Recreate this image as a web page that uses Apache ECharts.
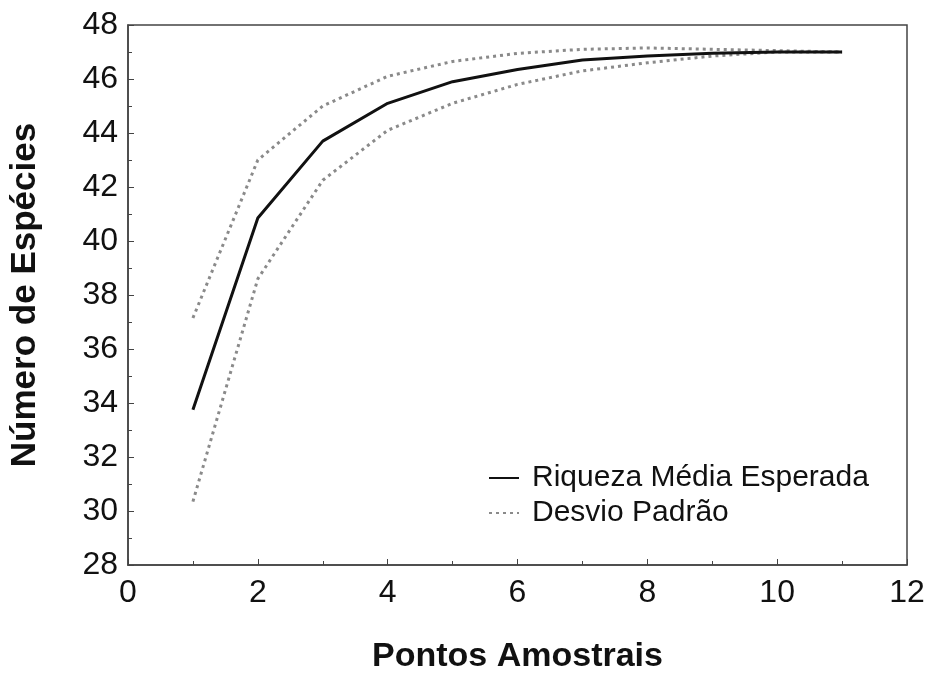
<!DOCTYPE html>
<html><head><meta charset="utf-8">
<script src="https://cdn.jsdelivr.net/npm/echarts@6/dist/echarts.min.js"></script>
<style>html,body{margin:0;padding:0;background:#fff}#c{width:931px;height:673px}</style>
</head><body><div id="c"></div>
<script>
const xPoints = [1,2,3,4,5,6,7,8,9,10,11];
const meanRichness = [33.75,40.85,43.7,45.1,45.9,46.35,46.7,46.85,46.95,47.0,47.0];
const upperSD = [37.15,43.0,45.0,46.1,46.65,46.95,47.1,47.15,47.1,47.05,47.0];
const lowerSD = [30.35,38.6,42.25,44.1,45.1,45.8,46.3,46.6,46.85,47.0,47.0];
const xTicks = [0,2,4,6,8,10,12];
const yTicks = [28,30,32,34,36,38,40,42,44,46,48];

const pairs = (xs, ys) => xs.map((x,i)=>[x, ys[i]]);
const font = 'Liberation Sans, Arial, sans-serif';
const chart = echarts.init(document.getElementById('c'));
chart.setOption({
  backgroundColor:'#fff',
  animation:false,
  grid:{left:128,right:24,top:25,bottom:108,outerBoundsMode:'none',containLabel:false,
        show:true,borderColor:'#444',borderWidth:1.5,backgroundColor:'transparent'},
  legend:{
    orient:'vertical', left:483, top:458, itemWidth:30, itemHeight:14, itemGap:5,
    itemStyle:{opacity:0},
    textStyle:{fontFamily:font,fontSize:30,color:'#111',padding:[0,0,0,8]},
    data:['Riqueza Média Esperada','Desvio Padrão']
  },
  xAxis:{
    type:'value', min:xTicks[0], max:xTicks[xTicks.length-1], interval:2,
    name:'Pontos Amostrais', nameLocation:'middle', nameGap:75,
    nameTextStyle:{fontFamily:font,fontSize:34,fontWeight:'bold',color:'#111',verticalAlign:'top'},
    axisLine:{lineStyle:{color:'#444',width:1.5}},
    axisTick:{inside:true,length:6,lineStyle:{color:'#444'}},
    minorTick:{show:true,splitNumber:2,length:4,lineStyle:{color:'#444'}},
    splitLine:{show:false},
    axisLabel:{fontFamily:font,fontSize:32,color:'#111',margin:12}
  },
  yAxis:{
    type:'value', min:yTicks[0], max:yTicks[yTicks.length-1], interval:2,
    name:'Número de Espécies', nameLocation:'middle', nameGap:85,
    nameTextStyle:{fontFamily:font,fontSize:35,fontWeight:'bold',color:'#111'},
    axisLine:{show:true,lineStyle:{color:'#444',width:1.5}},
    axisTick:{show:true,inside:true,length:6,lineStyle:{color:'#444'}},
    minorTick:{show:true,splitNumber:2,length:4,lineStyle:{color:'#444'}},
    splitLine:{show:false},
    axisLabel:{fontFamily:font,fontSize:32,color:'#111',margin:10}
  },
  series:[
    {name:'Riqueza Média Esperada',type:'line',data:pairs(xPoints,meanRichness),symbol:'none',
     lineStyle:{color:'#111',width:3},itemStyle:{color:'#111'},z:3},
    {name:'Desvio Padrão',type:'line',data:pairs(xPoints,upperSD),symbol:'none',
     lineStyle:{color:'#8a8a8a',width:3,type:[3,4]},itemStyle:{color:'#8a8a8a'},z:2},
    {name:'Desvio Padrão',type:'line',data:pairs(xPoints,lowerSD),symbol:'none',
     lineStyle:{color:'#8a8a8a',width:3,type:[3,4]},itemStyle:{color:'#8a8a8a'},z:2}
  ]
});
</script></body></html>
